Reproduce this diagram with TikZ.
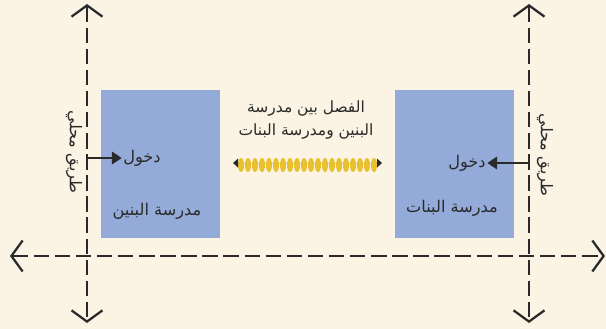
\documentclass[tikz,border=0pt]{standalone}
\usepackage{fontspec}
\usetikzlibrary{arrows.meta,positioning}
\TeXXeTstate=1
\newfontfamily\arabicfont[Script=Arabic]{DejaVu Sans}
\definecolor{paper}{HTML}{FBF4E4}
\definecolor{schoolblue}{HTML}{94AAD8}
\definecolor{coilyellow}{HTML}{E9C12F}
\definecolor{inkgray}{HTML}{2A2A2A}

\begin{document}
\begin{tikzpicture}
  [x=0.025cm,y=-0.025cm,
   every node/.style={font=\arabicfont\fontsize{11.5}{15}\selectfont,text=inkgray,inner sep=1pt},
   road/.style={draw=inkgray,line width=2pt,dash pattern=on 11pt off 4pt,
     {Straight Barb[length=8pt,width=22pt,line width=1.6pt]}-{Straight Barb[length=8pt,width=22pt,line width=1.6pt]}},
   school/.style={rectangle,fill=schoolblue,minimum width=2.975cm,minimum height=3.7cm,inner sep=0pt},
   entry/.style={draw=inkgray,line width=1.2pt,-{Triangle[length=7pt,width=9pt]}}]
  \fill[paper] (0,0) rectangle (606,329);
  \useasboundingbox (0,0) rectangle (606,329);

  % roads
  \coordinate (lt) at (87,4);
  \coordinate (lb) at (87,323);
  \coordinate (rt) at (529,4);
  \coordinate (rb) at (529,323);
  \coordinate (hl) at (10,256);
  \coordinate (hr) at (605,256);
  \coordinate (lgate) at (87,158);
  \coordinate (rgate) at (529,163);

  % schools
  \node[school] (boys) at (160.5,164) {};
  \node[school] (girls) at (454.5,164) {};
  \node (lentry) at (142,158) {\beginR دخول\endR};
  \node (rentry) at (467,163) {\beginR دخول\endR};
  \node (boysname) at (157,211) {\beginR مدرسة البنين\endR};
  \node (girlsname) at (452,208) {\beginR مدرسة البنات\endR};

  \draw[road] (lt) -- (lb);
  \draw[road] (rt) -- (rb);
  \draw[road] (hl) -- (hr);

  \node[rotate=-90] (lroad) at (74,152) {\beginR طريق محلي\endR};
  \node[rotate=-90] (rroad) at (545,155) {\beginR طريق محلي\endR};

  \draw[entry] (lgate) -- (lentry.west);
  \draw[entry] (rgate) -- (rentry.east);

  % separation
  \node[align=center,font=\arabicfont\fontsize{11}{16}\selectfont] (gap) at (306,120) {\beginR الفصل بين مدرسة\endR\\ \beginR البنين ومدرسة البنات\endR};
  \coordinate (sl) at (233,163);
  \coordinate (sr) at (382,163);
  \draw[gray!40,line width=0.5pt] (sl) -- (sr);
  \foreach \i in {0,...,19}
    \fill[coilyellow] (241+7*\i,165) ellipse [x radius=3,y radius=7];
  \fill[inkgray] (sl) -- ++(5,-4.5) -- ++(0,9) -- cycle;
  \fill[inkgray] (sr) -- ++(-5,-4.5) -- ++(0,9) -- cycle;
\end{tikzpicture}
\end{document}
